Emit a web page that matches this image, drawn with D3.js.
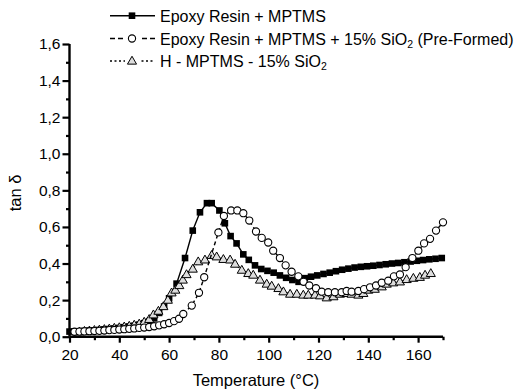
<!DOCTYPE html>
<html><head><meta charset="utf-8">
<script src="https://cdn.jsdelivr.net/npm/d3@7"></script>
<style>body{margin:0;background:#fff}svg{display:block}text{font-family:"Liberation Sans",Arial,sans-serif}</style>
</head><body>
<svg id="c" width="527" height="389"></svg>
<script>
const seriesNames = ["Epoxy Resin + MPTMS", "Epoxy Resin + MPTMS + 15% SiO2 (Pre-Formed)", "H - MPTMS - 15% SiO2"];
const xTicks = [20,40,60,80,100,120,140,160];
const yTicks = [0,0.2,0.4,0.6,0.8,1.0,1.2,1.4,1.6];
// Epoxy Resin + MPTMS (filled squares)
const squareT = [20,22,24,26,28,30,32,34,36,38,40,42,44,46,48,50,52,54,56,58,60,63,66.4,69.5,72.4,75.2,77.1,80.2,82.4,84.7,87.1,89.8,92,94.5,97,99.5,102,104.5,107,109.5,112,114.5,117,119.5,122,124.5,127,129.5,132,134.5,137,139.5,142,144.5,147,149.5,152,154.5,157,159.5,162,164.5,167,169.5];
const squareV = [0.028,0.029,0.03,0.032,0.033,0.035,0.037,0.04,0.042,0.045,0.048,0.052,0.056,0.06,0.066,0.074,0.085,0.1,0.13,0.165,0.21,0.29,0.43,0.58,0.68,0.73,0.73,0.69,0.62,0.55,0.51,0.45,0.42,0.39,0.37,0.36,0.35,0.335,0.322,0.31,0.3,0.32,0.328,0.335,0.343,0.35,0.358,0.366,0.372,0.378,0.382,0.385,0.388,0.392,0.396,0.4,0.403,0.407,0.411,0.415,0.419,0.423,0.426,0.43];
// Pre-formed (open circles)
const circleT = [22,24,26,28,30,32,34,36,38,40,42,44,46,48,50,52,54,56,58,60,62,64,65.7,69.1,72,74.1,79.8,82,84.9,87.4,89.8,92.2,94.9,97.2,99.8,101.8,104.5,106.8,109.2,111.9,114,116.3,119,121.3,123.9,126.6,129.3,131.3,133.3,136,138.3,140.7,143.1,145.4,148,150.3,152.7,155,157.7,160.1,162.4,164.8,167.2,170];
const circleV = [0.027,0.028,0.029,0.03,0.031,0.032,0.034,0.036,0.037,0.039,0.041,0.043,0.045,0.048,0.05,0.053,0.057,0.062,0.068,0.075,0.085,0.098,0.124,0.17,0.24,0.325,0.57,0.66,0.69,0.69,0.675,0.635,0.575,0.54,0.515,0.47,0.43,0.39,0.355,0.33,0.3,0.28,0.265,0.246,0.243,0.243,0.243,0.25,0.246,0.25,0.26,0.27,0.28,0.295,0.306,0.33,0.34,0.38,0.43,0.47,0.51,0.535,0.58,0.625];
// H - MPTMS - 15% SiO2 (open triangles)
const triT = [24,26,28,30,32,34,36,38,40,42,44,46,48,50,52,53.7,55.7,57.7,59.5,61,62.5,64.1,65.5,67,69.5,71.7,74.4,77.1,79.1,81.8,84.5,86.5,89.2,91.8,93.8,96.5,99.2,101.2,103.9,105.9,108.6,111.3,113.9,115.9,118.6,120.6,123.3,126,128.6,131.3,133.3,136,138,140,142.6,145.4,147.4,150,152.7,155.4,158.1,160.7,162.8,165.1];
const triV = [0.027,0.03,0.032,0.035,0.037,0.04,0.043,0.047,0.05,0.054,0.058,0.064,0.07,0.08,0.095,0.12,0.14,0.165,0.2,0.24,0.255,0.28,0.31,0.34,0.37,0.41,0.42,0.445,0.437,0.423,0.42,0.397,0.364,0.346,0.337,0.31,0.288,0.277,0.264,0.246,0.233,0.233,0.228,0.228,0.228,0.224,0.213,0.219,0.233,0.237,0.233,0.228,0.237,0.255,0.26,0.273,0.288,0.295,0.3,0.313,0.32,0.325,0.337,0.346];

const svg = d3.select("#c");
const x = d3.scaleLinear().domain([20,170]).range([69.5,443]);
const y = d3.scaleLinear().domain([0,1.6]).range([336.7,44]);
const fmt = d => d3.format(".1f")(d).replace(".", ",");
const FONT = "'Liberation Sans',Arial,sans-serif";

// axes
const xAxis = svg.append("g").attr("transform","translate(0,336.7)");
xAxis.call(d3.axisBottom(x).tickValues(xTicks).tickSize(6).tickPadding(3).tickFormat(d3.format("d")));
const xMinor = svg.append("g").attr("transform","translate(0,336.7)");
xMinor.call(d3.axisBottom(x).tickValues(d3.range(30,171,20)).tickSize(3.5).tickFormat(""));
const yAxis = svg.append("g").attr("transform","translate(69.5,0)");
yAxis.call(d3.axisLeft(y).tickValues(yTicks).tickSize(7).tickPadding(2).tickFormat(fmt));
const yMinor = svg.append("g").attr("transform","translate(69.5,0)");
yMinor.call(d3.axisLeft(y).tickValues(d3.range(0.1,1.6,0.2)).tickSize(3.5).tickFormat(""));
svg.selectAll(".domain").attr("stroke","#000").attr("stroke-width",2.4);
svg.selectAll(".tick line").attr("stroke","#000").attr("stroke-width",2.2);
svg.selectAll(".tick text").attr("font-size",15.5).attr("fill","#000").style("font-family",FONT);
xAxis.selectAll(".tick text").attr("dy","0.9em");
xMinor.select(".domain").remove(); yMinor.select(".domain").remove();
xAxis.call(g=>g.select(".domain").attr("d",`M${x(20)},0H${x(170)}`));
yAxis.call(g=>g.select(".domain").attr("d",`M0,${y(1.6)}V${y(0)}`));

svg.append("text").attr("x",256).attr("y",386).attr("text-anchor","middle").attr("font-size",16.5).text("Temperature (°C)");
svg.append("text").attr("transform","translate(21,193) rotate(-90)").attr("text-anchor","middle").attr("font-size",16.5).text("tan δ");

const line = d3.line().x(d=>x(d[0])).y(d=>y(d[1]));
const sq = squareT.map((t,i)=>[t,squareV[i]]);
const ci = circleT.map((t,i)=>[t,circleV[i]]);
const tr = triT.map((t,i)=>[t,triV[i]]);

const tri = d3.symbol().type(d3.symbolTriangle).size(36);

function drawSeries(data, dash, marker){
  svg.append("path").attr("d",line(data)).attr("fill","none").attr("stroke","#000").attr("stroke-width",1.4).attr("stroke-dasharray",dash);
  const g = svg.append("g");
  data.forEach(d=>marker(g, x(d[0]), y(d[1])));
}
const mSq = (g,cx,cy)=>g.append("rect").attr("x",cx-3.3).attr("y",cy-3.3).attr("width",6.6).attr("height",6.6).attr("fill","#000");
const mCi = (g,cx,cy)=>g.append("circle").attr("cx",cx).attr("cy",cy).attr("r",3.6).attr("fill","#fff").attr("stroke","#000").attr("stroke-width",1.1);
const mTr = (g,cx,cy)=>g.append("path").attr("d",tri).attr("transform",`translate(${cx},${cy+0.5})`).attr("fill","#ddd").attr("stroke","#000").attr("stroke-width",1);

drawSeries(sq, null, mSq);
drawSeries(tr, "2,2", mTr);
drawSeries(ci, "4,3", mCi);

// legend
const leg = svg.append("g");
const rows = [15.7,38.5,61];
const dashes = [null,"5,3","2,2.5"];
const markers = [mSq,mCi,mTr];
rows.forEach((ry,i)=>{
  leg.append("line").attr("x1",110).attr("x2",155).attr("y1",ry).attr("y2",ry).attr("stroke","#000").attr("stroke-width",1.6).attr("stroke-dasharray",dashes[i]);
  if(i>0) leg.append("rect").attr("x",125).attr("y",ry-5).attr("width",14).attr("height",10).attr("fill","#fff");
  markers[i](leg,132,ry);
});
function legText(ry, parts){
  const t = leg.append("text").attr("x",160).attr("y",ry+6).attr("font-size",16);
  parts.forEach(p=>{
    const s = t.append("tspan").text(p[0]);
    if(p[1]) s.attr("baseline-shift","-30%").attr("font-size",10.5);
  });
}
legText(rows[0], [["Epoxy Resin + MPTMS"]]);
legText(rows[1], [["Epoxy Resin + MPTMS + 15% SiO"],["2",true],[" (Pre-Formed)"]]);
legText(rows[2], [["H - MPTMS - 15% SiO"],["2",true]]);
</script>
</body></html>
